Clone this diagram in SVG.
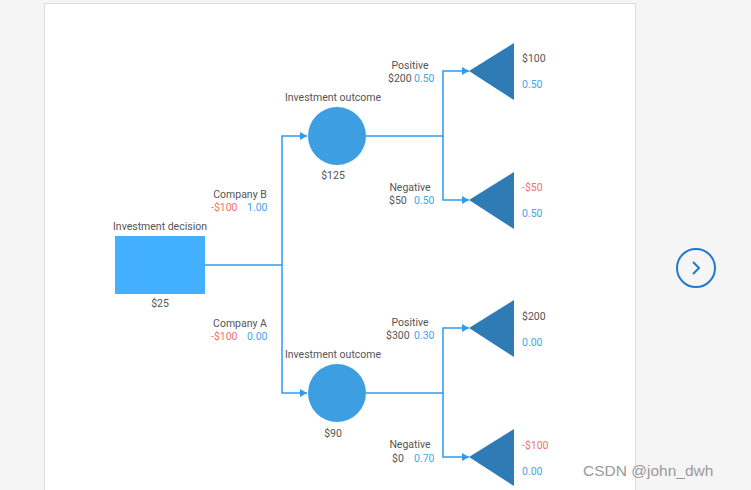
<svg xmlns="http://www.w3.org/2000/svg" width="751" height="490" viewBox="0 0 751 490">
<defs>
<marker id="ah" markerWidth="8" markerHeight="8" refX="7" refY="4" orient="auto" markerUnits="userSpaceOnUse">
<path d="M0,0 L7,4 L0,8 Z" fill="#2f9bf0"/>
</marker>
</defs>
<style>
text{font-family:Roboto,"Liberation Sans",sans-serif;font-size:10.5px;fill:#555}
.c{text-anchor:middle}
.r{fill:#f07070}
.b{fill:#45a5e8}
.e{fill:none;stroke:#2f9bf0;stroke-width:1.5}
.tri{fill:#2e7bb5}
.cir{fill:#3d9fe2}
</style>
<rect width="751" height="490" fill="#f5f5f5"/>
<rect x="44.5" y="3.5" width="591" height="490" fill="#fff" stroke="#dcdcdc"/>
<g id="connectors">
<path class="e" d="M205,265 H282 V136 H307" marker-end="url(#ah)"/>
<path class="e" d="M282,265 V393 H307" marker-end="url(#ah)"/>
<path class="e" d="M366,136 H443 V71 H469" marker-end="url(#ah)"/>
<path class="e" d="M443,136 V200 H469" marker-end="url(#ah)"/>
<path class="e" d="M366,393 H443 V328 H469" marker-end="url(#ah)"/>
<path class="e" d="M443,393 V457 H469" marker-end="url(#ah)"/>
</g>
<g id="decision">
<rect x="115" y="236" width="90" height="58" fill="#42b0ff"/>
<text class="c" x="160" y="230">Investment decision</text>
<text class="c" x="160" y="307">$25</text>
</g>
<g id="edgeB">
<text class="c" x="240" y="198">Company B</text>
<text class="r" x="211" y="211">-$100</text>
<text class="b" x="247" y="211">1.00</text>
</g>
<g id="edgeA">
<text class="c" x="240" y="327">Company A</text>
<text class="r" x="211" y="340">-$100</text>
<text class="b" x="247" y="340">0.00</text>
</g>
<g id="chanceB">
<circle class="cir" cx="337" cy="136" r="29"/>
<text class="c" x="333" y="101">Investment outcome</text>
<text class="c" x="333" y="179">$125</text>
</g>
<g id="chanceA">
<circle class="cir" cx="337" cy="393" r="29"/>
<text class="c" x="333" y="358">Investment outcome</text>
<text class="c" x="333" y="437">$90</text>
</g>
<g id="labelsB">
<text class="c" x="410" y="69">Positive</text>
<text x="388" y="82">$200</text><text class="b" x="414" y="82">0.50</text>
<text class="c" x="410" y="191">Negative</text>
<text x="389" y="204">$50</text><text class="b" x="414" y="204">0.50</text>
</g>
<g id="labelsA">
<text class="c" x="410" y="326">Positive</text>
<text x="386" y="339">$300</text><text class="b" x="414" y="339">0.30</text>
<text class="c" x="410" y="448">Negative</text>
<text x="392" y="462">$0</text><text class="b" x="414" y="462">0.70</text>
</g>
<g id="end1">
<polygon class="tri" points="469,71 514,43 514,100"/>
<text x="522" y="62">$100</text>
<text class="b" x="522" y="88">0.50</text>
</g>
<g id="end2">
<polygon class="tri" points="469,200 514,172 514,229"/>
<text class="r" x="522" y="191">-$50</text>
<text class="b" x="522" y="217">0.50</text>
</g>
<g id="end3">
<polygon class="tri" points="469,328 514,300 514,357"/>
<text x="522" y="320">$200</text>
<text class="b" x="522" y="346">0.00</text>
</g>
<g id="end4">
<polygon class="tri" points="469,457 514,429 514,486"/>
<text class="r" x="522" y="449">-$100</text>
<text class="b" x="522" y="475">0.00</text>
</g>
<g id="nextbtn">
<circle cx="696" cy="268" r="19" fill="none" stroke="#1f78d1" stroke-width="2"/>
<path d="M693,262 L699,268 L693,274" fill="none" stroke="#1f78d1" stroke-width="2"/>
</g>
<text x="583" y="476" style="font-family:'Liberation Sans',sans-serif;font-size:15.5px;fill:#9a9a9a">CSDN @john_dwh</text>
</svg>
